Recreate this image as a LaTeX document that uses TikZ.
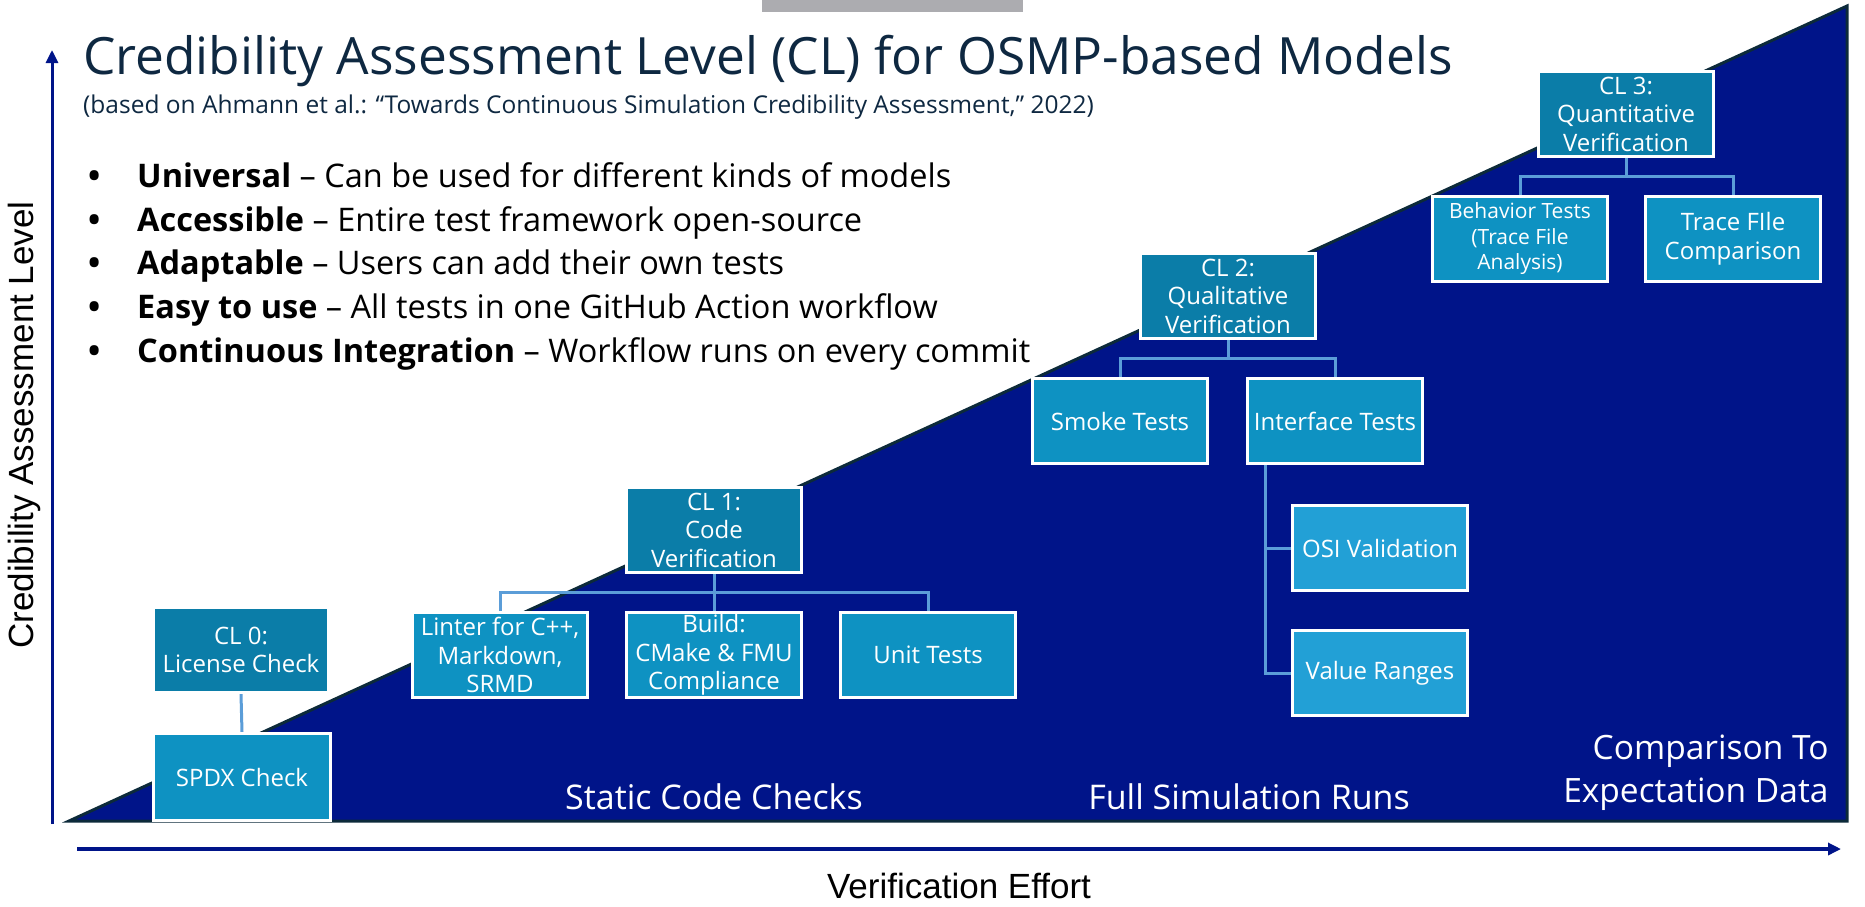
\documentclass[tikz,border=0pt]{standalone}
\usepackage{fontspec}
\setmainfont{Open Sans}
\newfontfamily\axisfont{Liberation Sans}
\usetikzlibrary{calc,arrows.meta,backgrounds}

\definecolor{navyfill}{RGB}{0,20,137}
\definecolor{edgedark}{RGB}{12,42,58}
\definecolor{clhead}{RGB}{11,125,168}
\definecolor{cltest}{RGB}{14,146,194}
\definecolor{clsub}{RGB}{34,160,214}
\definecolor{linkblue}{RGB}{91,157,216}
\definecolor{titleblue}{RGB}{14,40,65}
\definecolor{topgray}{RGB}{172,172,176}

\tikzset{
  clbox/.style={draw=white, line width=3pt, fill=clhead, text=white,
    minimum width=175pt, minimum height=85pt, inner sep=1pt, align=center,
    font=\fontsize{24}{28.5}\selectfont},
  testbox/.style={clbox, fill=cltest},
  subbox/.style={clbox, fill=clsub},
  link/.style={draw=linkblue, line width=3pt},
  axisarrow/.style={draw=navyfill, -{Triangle[length=13pt,width=12pt]}},
  phase/.style={text=white, font=\fontsize{34}{43}\selectfont},
  bullet/.style={anchor=base west, font=\fontsize{32.5}{36}\selectfont},
}

\begin{document}
\begin{tikzpicture}[x=1pt,y=-1pt]
\useasboundingbox (0,0) rectangle (1865,906);

\begin{pgfonlayer}{background}
% Drawing gray strip at top
\fill[topgray] (762,0) rectangle (1023,12);

% Drawing the effort triangle
\filldraw[fill=navyfill, draw=edgedark, line width=3pt, line join=miter]
  (69,821) -- (1847,6) -- (1847,821) -- cycle;
\end{pgfonlayer}

% Drawing axes
\coordinate (ybottom) at (52,824);
\coordinate (ytop) at (52,50);
\coordinate (xleft) at (77,849);
\coordinate (xright) at (1841,849);
\draw[axisarrow, line width=3pt] (ybottom) -- (ytop);
\draw[axisarrow, line width=4.5pt] (xleft) -- (xright);
\node[rotate=90, font=\axisfont\fontsize{35}{40}\selectfont] (ylabel) at (24,425) {Credibility Assessment Level};
\node[font=\axisfont\fontsize{35}{40}\selectfont] (xlabel) at (959,886) {Verification Effort};

% Drawing title and bullets
\node[anchor=base west, text=titleblue, font=\fontsize{51.4}{60}\selectfont, inner sep=0pt] (title) at (83,74)
  {Credibility Assessment Level (CL) for OSMP-based Models};
\node[anchor=base west, text=titleblue, font=\fontsize{24.5}{28}\selectfont, inner sep=0pt] (subtitle) at (83,113)
  {(based on Ahmann et al.: “Towards Continuous Simulation Credibility Assessment,” 2022)};
\foreach \y/\txt [count=\i] in {
    187/{\textbf{Universal} – Can be used for different kinds of models},
    231/{\textbf{Accessible} – Entire test framework open-source},
    274/{\textbf{Adaptable} – Users can add their own tests},
    318/{\textbf{Easy to use} – All tests in one GitHub Action workflow},
    362/{\textbf{Continuous Integration} – Workflow runs on every commit}}{
  \node[bullet, inner sep=0pt] (dot\i) at (88,\y) {\textbf{•}};
  \node[bullet, inner sep=0pt] (item\i) at (137,\y) {\txt};
}

% Drawing phase labels
\node[phase] (static) at (714,797) {Static Code Checks};
\node[phase] (fullsim) at (1249,797) {Full Simulation Runs};
\node[phase, anchor=east, align=right, font=\fontsize{33.5}{43}\selectfont] (expect) at (1832,773) {Comparison To\\Expectation Data};

% Drawing CL 0
\node[clbox] (cl0) at (241,650) {CL 0:\\License Check};
\node[testbox, minimum width=177pt, minimum height=87pt] (spdx) at (242,777) {SPDX Check};

% Drawing CL 1
\node[clbox] (cl1) at (714,530) {CL 1:\\Code\\Verification};
\node[testbox] (linter) at (500,655) {Linter for C++,\\Markdown,\\SRMD};
\node[testbox] (build) at (714,655) {Build:\\CMake \& FMU\\Compliance};
\node[testbox] (unit) at (928,655) {Unit Tests};

% Drawing CL 2
\node[clbox] (cl2) at (1228,296) {CL 2:\\Qualitative\\Verification};
\node[testbox] (smoke) at (1120,421) {Smoke Tests};
\node[testbox] (iface) at (1335,421) {Interface Tests};
\node[subbox] (osi) at (1380,548) {OSI Validation};
\node[subbox] (valrange) at (1380,673) {Value Ranges};

% Drawing CL 3
\node[clbox] (cl3) at (1626,114) {CL 3:\\Quantitative\\Verification};
\node[testbox, font=\fontsize{21}{25.5}\selectfont] (behav) at (1520,239) {Behavior Tests\\(Trace File\\Analysis)};
\node[testbox] (trace) at (1733,239) {Trace FIle\\Comparison};

% Drawing connectors (over the triangle, behind the boxes)
\coordinate (bus1) at ($(cl1.south)!.5!(build.north)$);
\coordinate (bus2) at ($(cl2.south)!.5!(smoke.north)$);
\coordinate (bus3) at ($(cl3.south)!.5!(behav.north)$);
\coordinate (ibranch) at ([xshift=19pt]iface.south west);
\begin{pgfonlayer}{background}
\draw[link] (cl0.south) -- (spdx.north);
\draw[link] (linter.north) |- (bus1) -| (unit.north);
\draw[link] (cl1.south) -- (build.north);
\draw[link] (smoke.north) |- (bus2) -| (iface.north);
\draw[link] (cl2.south) -- (cl2.south |- bus2);
\draw[link] (ibranch) |- (valrange.west);
\draw[link] (ibranch |- osi.west) -- (osi.west);
\draw[link] (behav.north) |- (bus3) -| (trace.north);
\draw[link] (cl3.south) -- (cl3.south |- bus3);
\end{pgfonlayer}

\end{tikzpicture}
\end{document}
